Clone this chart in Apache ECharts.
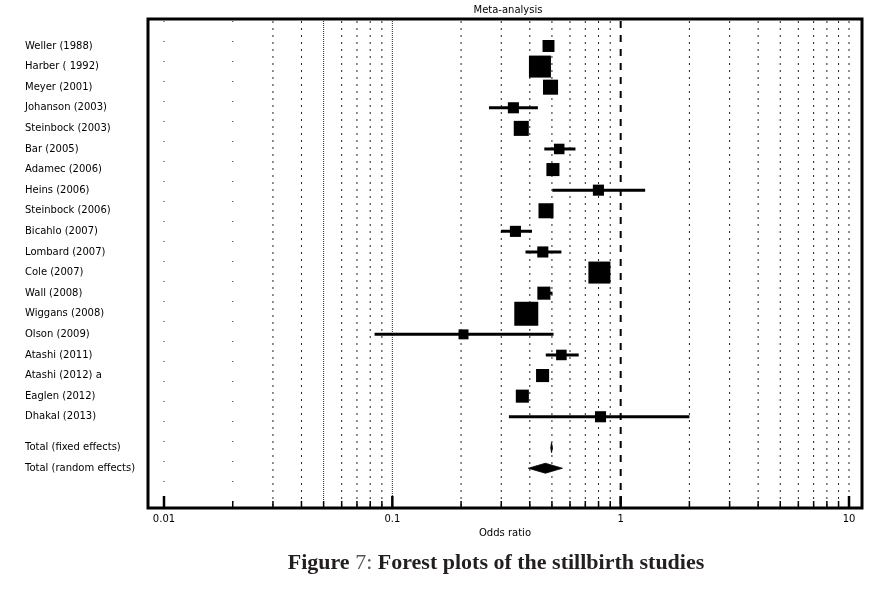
<!DOCTYPE html>
<html><head><meta charset="utf-8">
<script src="https://cdn.jsdelivr.net/npm/echarts@6/dist/echarts.min.js"></script>
<style>html,body{margin:0;padding:0;background:#fff}#c{width:885px;height:589px}</style>
</head><body><div id="c"></div>
<script>
// ---- data ----
const studies = ['Weller (1988)','Harber ( 1992)','Meyer (2001)','Johanson (2003)','Steinbock (2003)','Bar (2005)','Adamec (2006)','Heins (2006)','Steinbock (2006)','Bicahlo (2007)','Lombard (2007)','Cole (2007)','Wall (2008)','Wiggans (2008)','Olson (2009)','Atashi (2011)','Atashi (2012) a','Eaglen (2012)','Dhakal (2013)'];
const oddsRatio = [0.483,0.443,0.493,0.339,0.367,0.538,0.505,0.799,0.471,0.346,0.456,0.807,0.461,0.386,0.205,0.550,0.455,0.371,0.816];
const ciLower   = [0.470,0.420,0.475,0.265,0.352,0.463,0.490,0.502,0.455,0.299,0.383,0.770,0.440,0.365,0.0836,0.470,0.440,0.356,0.324];
const ciUpper   = [0.497,0.467,0.512,0.434,0.383,0.634,0.520,1.28,0.488,0.409,0.550,0.846,0.503,0.408,0.508,0.655,0.471,0.386,2.00];
const weights   = [3.6,12.2,5.7,3.1,5.7,2.8,4.3,3.1,5.7,3.1,3.1,12.2,4.3,14.5,2.5,2.8,4.3,4.3,3.1];
const totalLabels = ['Total (fixed effects)','Total (random effects)'];
const totalOR    = [0.498,0.468];
const totalLower = [0.494,0.394];
const totalUpper = [0.503,0.556];
const axisTicks  = [0.01,0.02,0.03,0.04,0.05,0.06,0.07,0.08,0.09,0.1,0.2,0.3,0.4,0.5,0.6,0.7,0.8,0.9,1,2,3,4,5,6,7,8,9,10];
const majorTicks = [0.01,0.1,1,10];
const majorLabels = ['0.01','0.1','1','10'];

// ---- build ----
const n = studies.length;
const studyRows = studies.map((s,i)=>i+1);
const totalRows = totalLabels.map((s,j)=>n+1.5+j);
const allLabels = studies.concat(totalLabels);
const allRows = studyRows.concat(totalRows);

const isMajor = v => majorTicks.some(m => Math.abs(m - v) < 1e-9);
const labelFont = '10px "DejaVu Sans"';

const chart = echarts.init(document.getElementById('c'), null, {renderer:'canvas'});
chart.setOption({
  animation:false,
  backgroundColor:'#fff',
  grid:{left:148, top:19, width:714, height:489, show:true, borderColor:'#000', borderWidth:3, backgroundColor:'transparent'},
  xAxis:{type:'log', logBase:10, min:0.00851, max:11.4,
    axisLine:{show:false}, axisTick:{show:false}, splitLine:{show:false},
    axisLabel:{margin:6, color:'#000', fontFamily:'DejaVu Sans', fontSize:10,
      showMinLabel:false, showMaxLabel:false,
      formatter:function(v){ const k = majorTicks.findIndex(m=>Math.abs(Math.log10(m)-Math.log10(v))<1e-6); return k>=0?majorLabels[k]:''; }},
    name:'Odds ratio', nameLocation:'middle', nameGap:17,
    nameTextStyle:{color:'#000', fontFamily:'DejaVu Sans', fontSize:10}
  },
  yAxis:{type:'value', inverse:true, min:-0.31, max:23.43, show:false},
  graphic:[
    {type:'text', x:508, y:10, style:{text:'Meta-analysis', font:'10px "DejaVu Sans"', fill:'#000', textAlign:'center', textVerticalAlign:'middle'}},
    {type:'text', x:496, y:563, style:{text:'{b|Figure }{n|7:}{b| Forest plots of the stillbirth studies}', textAlign:'center', textVerticalAlign:'middle',
      rich:{b:{fontFamily:'Liberation Serif', fontWeight:'bold', fontSize:22, fill:'#231f20'}, n:{fontFamily:'Liberation Serif', fontWeight:'normal', fontSize:22, fill:'#555'}}}}
  ],
  series:[
    { // grid lines
      type:'custom', z:1, silent:true,
      data: axisTicks.map(v=>[v,0]),
      encode:{x:0,y:1},
      renderItem:function(params, api){
        const v = api.value(0);
        const x = api.coord([v,1])[0];
        const cs = params.coordSys;
        let dash=[2,5], w=1, col='#222';
        if (Math.abs(v-1)<1e-9){ dash=[7,7]; w=2; col='#000'; }
        else if (Math.abs(v-0.05)<1e-9 || Math.abs(v-0.1)<1e-9){ dash=[1,1]; }
        else if (v<0.025){ dash=[1,19]; }
        return {type:'line', shape:{x1:x, y1:cs.y+2, x2:x, y2:cs.y+cs.height-2}, style:{stroke:col, lineWidth:w, lineDash:dash}};
      }
    },
    { // tick marks
      type:'custom', z:2, silent:true,
      data: axisTicks.map(v=>[v,0]),
      encode:{x:0,y:1},
      renderItem:function(params, api){
        const v = api.value(0);
        const x = api.coord([v,1])[0];
        const cs = params.coordSys;
        const major = isMajor(v);
        const len = major?12:7;
        const b = cs.y+cs.height;
        return {type:'line', shape:{x1:x, y1:b, x2:x, y2:b-len}, style:{stroke:'#000', lineWidth:major?2.5:1.5}};
      }
    },
    { // studies
      type:'custom', z:5, silent:true,
      data: studies.map((s,i)=>[oddsRatio[i], studyRows[i], ciLower[i], ciUpper[i], weights[i]]),
      encode:{x:0,y:1},
      renderItem:function(params, api){
        const c = api.coord([api.value(0), api.value(1)]);
        const lo = api.coord([api.value(2), api.value(1)]);
        const hi = api.coord([api.value(3), api.value(1)]);
        const s = 6.3*Math.sqrt(api.value(4));
        return {type:'group', children:[
          {type:'line', shape:{x1:lo[0], y1:c[1], x2:hi[0], y2:c[1]}, style:{stroke:'#000', lineWidth:3}},
          {type:'rect', shape:{x:c[0]-s/2, y:c[1]-s/2, width:s, height:s}, style:{fill:'#000'}}
        ]};
      }
    },
    { // pooled diamonds
      type:'custom', z:5, silent:true,
      data: totalLabels.map((s,j)=>[totalOR[j], totalRows[j], totalLower[j], totalUpper[j]]),
      encode:{x:0,y:1},
      renderItem:function(params, api){
        const c = api.coord([api.value(0), api.value(1)]);
        const lo = api.coord([api.value(2), api.value(1)]);
        const hi = api.coord([api.value(3), api.value(1)]);
        const h = 10;
        return {type:'polygon', shape:{points:[[lo[0],c[1]],[c[0],c[1]-h/2],[hi[0],c[1]],[c[0],c[1]+h/2]]}, style:{fill:'#000', stroke:'#000', lineWidth:0.8}};
      }
    },
    { // row labels
      type:'custom', z:5, silent:true, clip:false,
      data: allLabels.map((s,i)=>[1, allRows[i], i]),
      encode:{x:0,y:1},
      renderItem:function(params, api){
        const c = api.coord([api.value(0), api.value(1)]);
        return {type:'text', x:25, y:c[1], style:{text:allLabels[api.value(2)], font:labelFont, fill:'#000', textAlign:'left', textVerticalAlign:'middle'}};
      }
    }
  ]
});
</script></body></html>
